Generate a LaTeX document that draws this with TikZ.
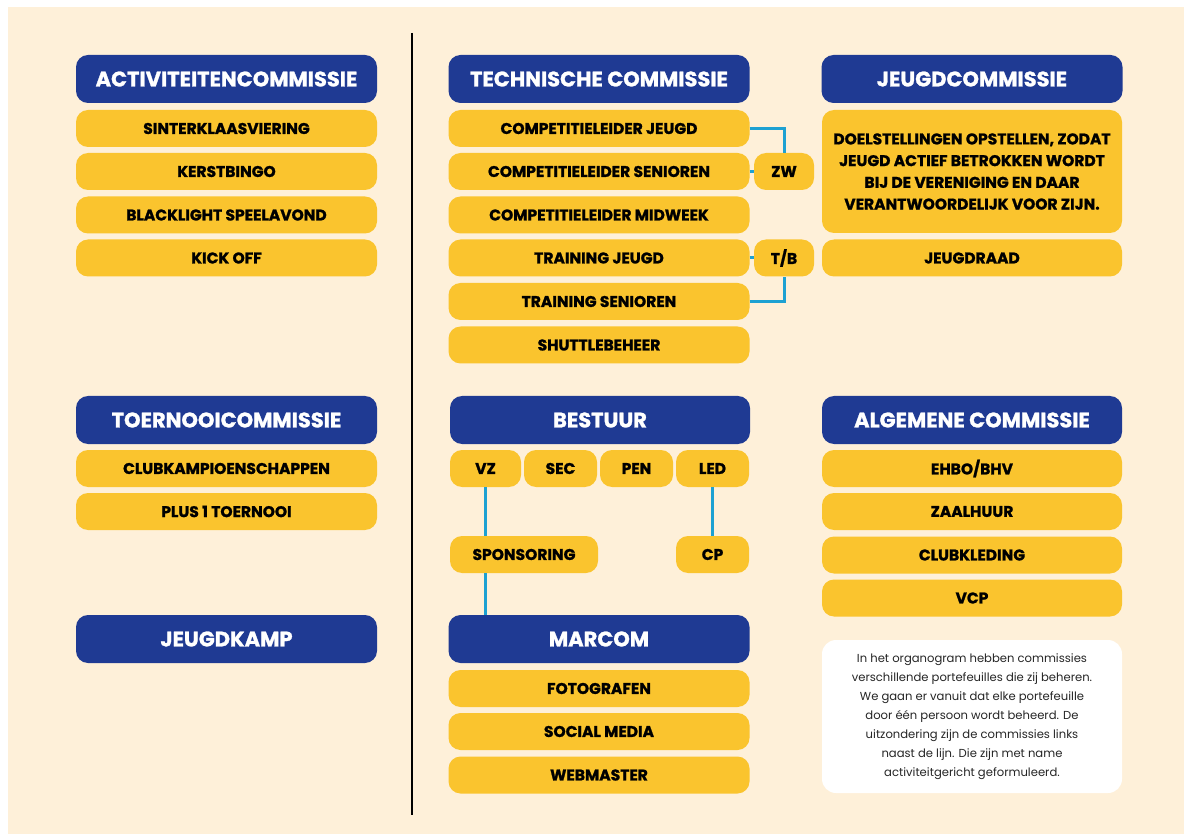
\documentclass[tikz,border=0pt]{standalone}
\usepackage{fontspec}
\setmainfont{Poppins}[BoldFeatures={FakeBold=1.2}]
\usepackage{xcolor}
\definecolor{cream}{HTML}{FEF0D9}
\definecolor{navy}{HTML}{1F3A93}
\definecolor{gold}{HTML}{FAC42E}
\definecolor{lijnblauw}{HTML}{1DA1D2}

\tikzset{
	head/.style={fill=navy, text=white, rounded corners=12pt, minimum width=301pt, minimum height=48pt, inner sep=0pt, font=\bfseries\fontsize{21}{23}\selectfont},
	item/.style={fill=gold, text=black, rounded corners=12pt, minimum width=301pt, minimum height=37pt, inner sep=0pt, font=\bfseries\fontsize{15.5}{17}\selectfont},
	note/.style={fill=white, text=black!85, rounded corners=14pt, minimum width=300pt, minimum height=153pt, inner sep=0pt, align=center, font=\fontsize{11.6}{19}\selectfont},
	link/.style={draw=lijnblauw, line width=3pt}
}

\begin{document}
\begin{tikzpicture}[x=1pt,y=-1pt]
	\useasboundingbox (0,0) rectangle (1184,834);
	\fill[white] (0,0) rectangle (1184,834);
	\fill[cream] (8,7) rectangle (1184,834);
	\draw[black, line width=2pt] (412,33) -- (412,815);

	% links van de lijn
	\node[head] (ac) at (226.5,79) {ACTIVITEITENCOMMISSIE};
	\node[item] (sk) at (226.5,128.5) {SINTERKLAASVIERING};
	\node[item] (kb) at (226.5,171.5) {KERSTBINGO};
	\node[item] (bl) at (226.5,215) {BLACKLIGHT SPEELAVOND};
	\node[item] (ko) at (226.5,258) {KICK OFF};

	\node[head] (toc) at (226.5,420) {TOERNOOICOMMISSIE};
	\node[item] (ck) at (226.5,468.5) {CLUBKAMPIOENSCHAPPEN};
	\node[item] (p1) at (226.5,511.5) {PLUS 1 TOERNOOI};

	\node[head] (jk) at (226.5,639) {JEUGDKAMP};

	% technische commissie
	\node[head] (tec) at (599,79) {TECHNISCHE COMMISSIE};
	\node[item] (cj) at (599,128.5) {COMPETITIELEIDER JEUGD};
	\node[item] (cs) at (599,171.5) {COMPETITIELEIDER SENIOREN};
	\node[item] (cm) at (599,215) {COMPETITIELEIDER MIDWEEK};
	\node[item] (tj) at (599,258) {TRAINING JEUGD};
	\node[item] (ts) at (599,301.5) {TRAINING SENIOREN};
	\node[item] (sb) at (599,345) {SHUTTLEBEHEER};
	\node[item, minimum width=60pt] (zw) at (784,171.5) {ZW};
	\node[item, minimum width=60pt] (tb) at (784,258) {T/B};

	% jeugdcommissie
	\node[head] (jc) at (972,79) {JEUGDCOMMISSIE};
	\node[item, minimum width=300pt, minimum height=123pt, align=center, font=\bfseries\fontsize{15.5}{21.7}\selectfont] (doel) at (972,171.5) {DOELSTELLINGEN OPSTELLEN, ZODAT\\JEUGD ACTIEF BETROKKEN WORDT\\BIJ DE VERENIGING EN DAAR\\VERANTWOORDELIJK VOOR ZIJN.};
	\node[item, minimum width=300pt] (jr) at (972,258) {JEUGDRAAD};

	% bestuur
	\node[head, minimum width=300pt] (bes) at (600,420) {BESTUUR};
	\node[item, minimum width=71pt] (vz) at (485.5,468.5) {VZ};
	\node[item, minimum width=73pt] (sec) at (560.5,468.5) {SEC};
	\node[item, minimum width=73pt] (pen) at (636.5,468.5) {PEN};
	\node[item, minimum width=73pt] (led) at (712.5,468.5) {LED};
	\node[item, minimum width=148pt] (sp) at (524,554.5) {SPONSORING};
	\node[item, minimum width=73pt] (cp) at (712.5,554.5) {CP};

	\node[head] (mc) at (599,639) {MARCOM};
	\node[item] (fo) at (599,688.5) {FOTOGRAFEN};
	\node[item] (sm) at (599,731.5) {SOCIAL MEDIA};
	\node[item] (wm) at (599,775) {WEBMASTER};

	% algemene commissie
	\node[head, minimum width=300pt] (alg) at (972,420) {ALGEMENE COMMISSIE};
	\node[item, minimum width=300pt] (eh) at (972,468.5) {EHBO/BHV};
	\node[item, minimum width=300pt] (zh) at (972,511.5) {ZAALHUUR};
	\node[item, minimum width=300pt] (kl) at (972,555) {CLUBKLEDING};
	\node[item, minimum width=300pt] (vcp) at (972,598) {VCP};

	\node[note] (uitleg) at (972,716.5) {In het organogram hebben commissies\\verschillende portefeuilles die zij beheren.\\We gaan er vanuit dat elke portefeuille\\door één persoon wordt beheerd. De\\uitzondering zijn de commissies links\\naast de lijn. Die zijn met name\\activiteitgericht geformuleerd.};

	% verbindingen
	\draw[link] (cj.east) -| (zw.north);
	\draw[link] (cs.east) -- (zw.west);
	\draw[link] (ts.east) -| (tb.south);
	\draw[link] (tj.east) -- (tb.west);
	\draw[link] (vz.south) -- (vz.south |- sp.north);
	\draw[link] (vz.south |- sp.south) -- (vz.south |- mc.north);
	\draw[link] (led.south) -- (cp.north);

\end{tikzpicture}
\end{document}
